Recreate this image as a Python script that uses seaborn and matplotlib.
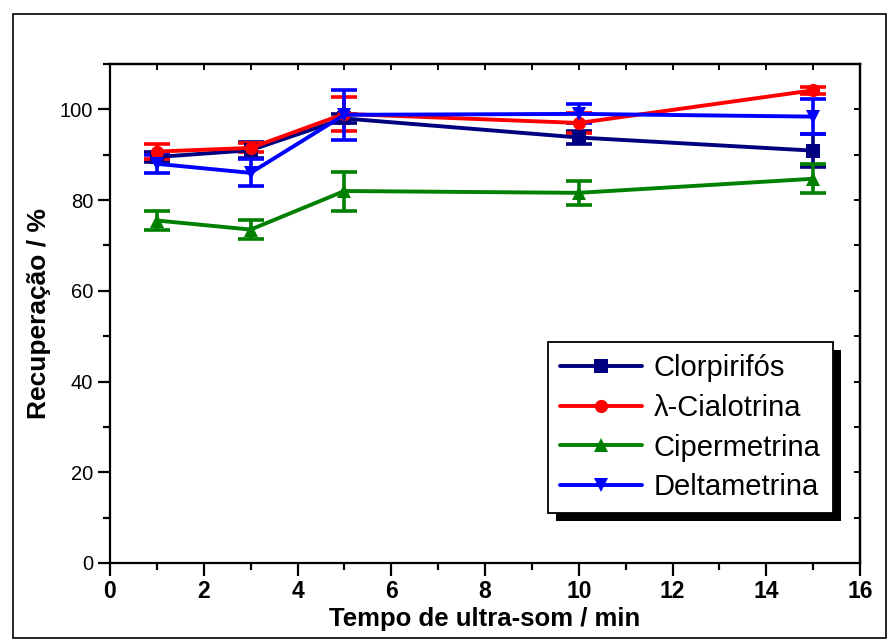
import matplotlib
matplotlib.use("Agg")
import matplotlib.pyplot as plt
from matplotlib.patches import Rectangle
from matplotlib.ticker import MultipleLocator
import numpy as np
import pandas as pd
import seaborn as sns

# Ultrasound extraction time (min)
tempo = [1, 3, 5, 10, 15]

compostos = ["Clorpirifós", "λ-Cialotrina", "Cipermetrina", "Deltametrina"]

# Mean recovery (%) and standard deviation for each pesticide
clorpirifos = [89.5, 91.0, 98.0, 93.8, 90.9]
clorpirifos_dp = [1.0, 1.8, 1.0, 1.4, 3.7]

cialotrina = [90.7, 91.5, 99.0, 97.0, 104.2]
cialotrina_dp = [1.6, 1.0, 3.8, 2.3, 0.8]

cipermetrina = [75.5, 73.5, 82.0, 81.6, 84.7]
cipermetrina_dp = [2.0, 2.1, 4.3, 2.7, 3.2]

deltametrina = [88.0, 86.0, 98.8, 99.0, 98.4]
deltametrina_dp = [2.0, 3.0, 5.5, 2.1, 3.9]

cores = ["#000080", "#ff0000", "#008000", "#0000ff"]
marcadores = ["s", "o", "^", "v"]

medias = [clorpirifos, cialotrina, cipermetrina, deltametrina]
desvios = [clorpirifos_dp, cialotrina_dp, cipermetrina_dp, deltametrina_dp]

df = pd.DataFrame({
    "Tempo": np.tile(tempo, len(compostos)),
    "Recuperacao": np.concatenate(medias),
    "DP": np.concatenate(desvios),
    "Composto": np.repeat(compostos, len(tempo)),
})

sns.set_theme(style="ticks")
plt.rcParams["font.family"] = ["Liberation Sans", "DejaVu Sans"]
plt.rcParams.update({
    "text.color": "black",
    "axes.labelcolor": "black",
    "xtick.color": "black",
    "ytick.color": "black",
    "axes.edgecolor": "black",
})

fig = plt.figure(figsize=(8.89, 6.4), dpi=100, facecolor="white")
ax = fig.add_axes([110 / 889, 77 / 640, 750 / 889, 499 / 640])

palette = dict(zip(compostos, cores))
markers = dict(zip(compostos, marcadores))

for nome, cor in zip(compostos, cores):
    sub = df[df["Composto"] == nome]
    ax.errorbar(sub["Tempo"], sub["Recuperacao"], yerr=sub["DP"], fmt="none",
                ecolor=cor, elinewidth=2.6, capsize=9.5, capthick=2.6, zorder=2)

sns.lineplot(data=df, x="Tempo", y="Recuperacao", hue="Composto", style="Composto",
             hue_order=compostos, style_order=compostos, palette=palette,
             markers=markers, dashes=False, linewidth=2.8, markersize=9.5,
             markeredgewidth=0, errorbar=None, sort=False, ax=ax, zorder=3)

ax.set_xlim(0, 16)
ax.set_ylim(0, 110)
ax.xaxis.set_major_locator(MultipleLocator(2))
ax.xaxis.set_minor_locator(MultipleLocator(1))
ax.set_yticks([0, 20, 40, 60, 80, 100])
ax.yaxis.set_minor_locator(MultipleLocator(10))

ax.tick_params(axis="x", which="major", direction="out", length=9, width=1.6,
               labelsize=16.5, pad=3)
ax.tick_params(axis="x", which="minor", direction="out", length=5, width=1.6)
ax.tick_params(axis="y", which="major", direction="out", length=9, width=1.6,
               labelsize=14.5, pad=3)
ax.tick_params(axis="y", which="minor", direction="out", length=5, width=1.6)
for lab in ax.get_xticklabels():
    lab.set_fontweight("bold")

# Mirrored inward ticks on the top and right spines
axt = ax.secondary_xaxis("top")
axt.xaxis.set_major_locator(MultipleLocator(1))
axt.tick_params(direction="in", length=4, width=1.4, labeltop=False)
axr = ax.secondary_yaxis("right")
axr.yaxis.set_major_locator(MultipleLocator(10))
axr.tick_params(direction="in", length=4, width=1.4, labelright=False)
for s in ["top", "right", "bottom", "left"]:
    ax.spines[s].set_visible(True)
    ax.spines[s].set_linewidth(1.6)
axt.spines["top"].set_linewidth(1.6)
axr.spines["right"].set_linewidth(1.6)

ax.set_xlabel("Tempo de ultra-som / min", fontsize=18.5, fontweight="bold")
ax.set_ylabel("Recuperação / %", fontsize=19, fontweight="bold")
ax.xaxis.set_label_coords(0.5, -0.112)
ax.yaxis.set_label_coords(-0.094, 0.5)
ax.xaxis.label.set_va("center")
ax.yaxis.label.set_va("center")

handles, labels = ax.get_legend_handles_labels()
for h in handles:
    h.set_linewidth(2.8)
    h.set_markersize(9.5)
leg = ax.legend(handles, labels, loc="upper left", bbox_to_anchor=(0.584, 0.443),
                borderaxespad=0, fontsize=21, frameon=True, fancybox=False,
                framealpha=1, edgecolor="black", handlelength=2.8,
                handletextpad=0.4, labelspacing=0.4, borderpad=0.42)
leg.get_frame().set_linewidth(1.3)
leg.set_zorder(6)

# Solid offset shadow behind the legend box
fig.canvas.draw()
bb = leg.get_window_extent()
sombra = Rectangle((bb.x0 + 8, bb.y0 - 8), bb.width, bb.height, transform=None,
                   facecolor="black", edgecolor="none", zorder=5, clip_on=False)
ax.add_artist(sombra)

# Outer frame around the whole figure
fig.add_artist(Rectangle((13 / 889, 2 / 640), 873 / 889, 624 / 640,
                         transform=fig.transFigure, fill=False,
                         edgecolor="black", linewidth=1.2))

fig.savefig("out.png", dpi=100, facecolor="white")
